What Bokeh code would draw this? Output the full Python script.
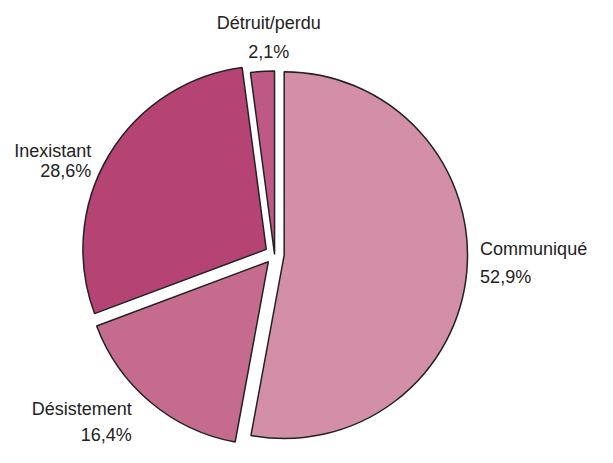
import math
from bokeh.plotting import figure
from bokeh.models import ColumnDataSource, Range1d
from bokeh.core.properties import value
from bokeh.embed import file_html
from bokeh.resources import INLINE

# ---- data ----
categories = ["Communiqué", "Désistement", "Inexistant", "Détruit/perdu"]
percents = [52.9, 16.4, 28.6, 2.1]
colors = ["#D48FA8", "#C56B8E", "#B54373", "#BE5884"]

# ---- layout (designed on a 613x463 canvas, scaled to fit) ----
W, H = 597, 447
S = 0.965
REF_CX, REF_CY = 284, 263   # pie centre on design canvas (y from top)
REF_R = 190
explode = [10, 10, 10, 0]   # per-slice pull-out on design canvas
FONT_PX = 18.7
BASELINE_FIX = 6            # renderer draws the baseline slightly low

def to_x(px):
    return px * S

def to_y(py):
    return H - py * S

# label anchors on design canvas: (x, first baseline, second baseline, align)
label_pos = {
    "Communiqué": (497, 264, 293, "left"),
    "Désistement": (136, 430, 456, "right"),
    "Inexistant": (94, 162, 183, "right"),
    "Détruit/perdu": (278, 30, 60, "center"),
}

CX, CY = to_x(REF_CX), to_y(REF_CY)
R = REF_R * S

total = sum(percents)
xs, ys, starts, ends = [], [], [], []
cum = 0.0
for v, d in zip(percents, explode):
    a0 = cum / total * 2 * math.pi
    cum += v
    a1 = cum / total * 2 * math.pi
    mid = (a0 + a1) / 2
    xs.append(CX + d * S * math.sin(mid))
    ys.append(CY + d * S * math.cos(mid))
    starts.append(math.pi / 2 - a0)
    ends.append(math.pi / 2 - a1)

src = ColumnDataSource(dict(x=xs, y=ys, start=starts, end=ends, color=colors))

p = figure(width=W, height=H, output_backend="svg", toolbar_location=None,
           x_range=Range1d(0, W), y_range=Range1d(0, H), min_border=0)
p.axis.visible = False
p.grid.visible = False
p.outline_line_color = None
p.background_fill_color = "white"
p.border_fill_color = "white"

p.wedge(x="x", y="y", radius=R, start_angle="start", end_angle="end",
        direction="clock", fill_color="color", line_color="#222222",
        line_width=1.5, source=src)

for cat, v in zip(categories, percents):
    lx, b1, b2, al = label_pos[cat]
    pct = f"{v:.1f}".replace(".", ",") + "%"
    p.text(x=[to_x(lx), to_x(lx)],
           y=[to_y(b1) + BASELINE_FIX, to_y(b2) + BASELINE_FIX],
           text=[cat, pct],
           text_font=value("Liberation Sans"),
           text_font_size=f"{FONT_PX * S:.1f}px",
           text_color="#222222", text_align=al, text_baseline="alphabetic")

open("out.html", "w").write(file_html(p, INLINE))
